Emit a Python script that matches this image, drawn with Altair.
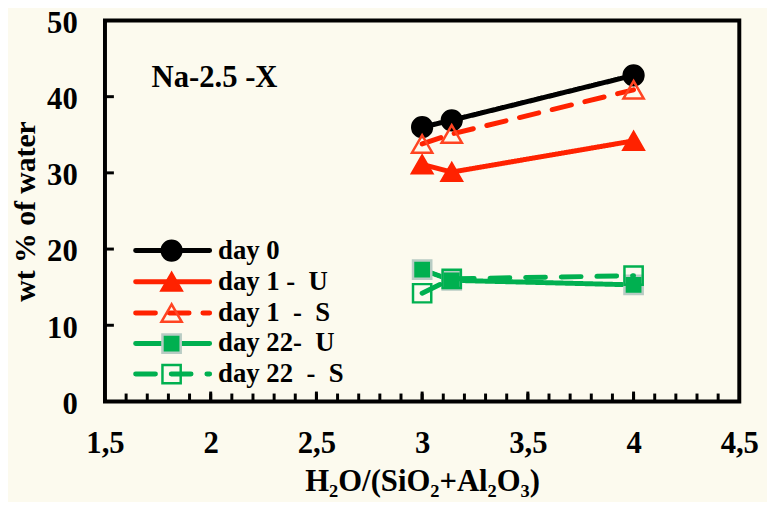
import altair as alt
import pandas as pd

# ---- data ----
x_vals = [3.0, 3.14, 4.0]
day0 = [36.0, 36.9, 42.8]
day1_U = [31.1, 30.1, 34.2]
day1_S = [33.8, 35.1, 40.9]
day22_U = [17.3, 15.9, 15.3]
day22_S = [14.2, 16.1, 16.5]

series_names = ["day 0", "day 1 -  U", "day 1  -  S", "day 22-  U", "day 22  -  S"]
series_values = [day0, day1_U, day1_S, day22_U, day22_S]

x_major = [1.5, 2.0, 2.5, 3.0, 3.5, 4.0, 4.5]
y_major = [0, 10, 20, 30, 40, 50]
x_minor = [round(1.5 + 0.1 * i, 1) for i in range(1, 30)]
y_inner_ticks = [10, 20, 30, 40]

annotation = "Na-2.5 -X"

# ---- styles ----
RED = "#FF2200"
GREEN = "#00B050"
BG = "#FCFAEE"
FONT = "Liberation Serif"

styles = [
    dict(color="black", dash=[1, 0], shape="circle", filled=True, fill="black", stroke="black", size=400),
    dict(color=RED, dash=[1, 0], shape="triangle-up", filled=True, fill=RED, stroke=RED, size=420),
    dict(color=RED, dash=[20, 14], shape="triangle-up", filled=False, fill=None, stroke="#FF4422", size=420),
    dict(color=GREEN, dash=[1, 0], shape="square", filled=True, fill=GREEN, stroke="#B8CCC4", size=340),
    dict(color=GREEN, dash=[20, 16], shape="square", filled=False, fill=None, stroke=GREEN, size=340),
]

# legend layout in data units
leg_rows = [19.8, 15.7, 11.6, 7.6, 3.6]
leg_x0, leg_xm, leg_x1, leg_xt = 1.645, 1.815, 1.995, 2.035

W, H = 641, 385
xscale = alt.Scale(domain=[1.5, 4.5], nice=False, zero=False)
yscale = alt.Scale(domain=[0, 50], nice=False)

layers = []
for name, vals, st, ly in zip(series_names, series_values, styles, leg_rows):
    df = pd.DataFrame({"x": x_vals, "y": vals, "series": name})
    line = alt.Chart(df).mark_line(
        color=st["color"], strokeWidth=5, strokeDash=st["dash"], strokeCap="round"
    ).encode(
        x=alt.X("x:Q", scale=xscale),
        y=alt.Y("y:Q", scale=yscale),
    )
    pkw = dict(shape=st["shape"], size=st["size"], opacity=1, strokeWidth=2.5, stroke=st["stroke"])
    if st["filled"]:
        pkw.update(filled=True, fill=st["fill"])
    else:
        pkw.update(filled=False, fill="transparent")
    pts = alt.Chart(df).mark_point(**pkw).encode(
        x=alt.X("x:Q", scale=xscale),
        y=alt.Y("y:Q", scale=yscale),
    )
    # legend entry
    ldf = pd.DataFrame({"x": [leg_x0, leg_x1], "y": [ly, ly]})
    lline = alt.Chart(ldf).mark_line(
        color=st["color"], strokeWidth=5, strokeDash=st["dash"], strokeCap="round"
    ).encode(x=alt.X("x:Q", scale=xscale), y=alt.Y("y:Q", scale=yscale))
    mdf = pd.DataFrame({"x": [leg_xm], "y": [ly]})
    lpt = alt.Chart(mdf).mark_point(**pkw).encode(
        x=alt.X("x:Q", scale=xscale), y=alt.Y("y:Q", scale=yscale)
    )
    tdf = pd.DataFrame({"x": [leg_xt], "y": [ly], "t": [name.replace("  ", "\u00a0 ")]})
    ltxt = alt.Chart(tdf).mark_text(
        align="left", baseline="middle", font=FONT, fontWeight="bold", fontSize=27, color="black"
    ).encode(x=alt.X("x:Q", scale=xscale), y=alt.Y("y:Q", scale=yscale), text="t:N")
    layers += [line, pts, lline, lpt, ltxt]

# inward ticks
minor_df = pd.DataFrame({"x": x_minor})
minor_ticks = alt.Chart(minor_df).mark_rule(color="black", strokeWidth=3).encode(
    x=alt.X("x:Q", scale=xscale), y=alt.value(H), y2=alt.value(H - 8)
)
major_df = pd.DataFrame({"x": x_major[1:-1]})
major_ticks = alt.Chart(major_df).mark_rule(color="black", strokeWidth=3).encode(
    x=alt.X("x:Q", scale=xscale), y=alt.value(H), y2=alt.value(H - 10)
)
ytick_df = pd.DataFrame({"y": y_inner_ticks})
y_ticks = alt.Chart(ytick_df).mark_rule(color="black", strokeWidth=3).encode(
    y=alt.Y("y:Q", scale=yscale), x=alt.value(0), x2=alt.value(9)
)

ann_df = pd.DataFrame({"x": [1.72], "y": [42.4], "t": [annotation]})
ann = alt.Chart(ann_df).mark_text(
    align="left", baseline="middle", font=FONT, fontWeight="bold", fontSize=31, color="black"
).encode(x=alt.X("x:Q", scale=xscale), y=alt.Y("y:Q", scale=yscale), text="t:N")

# axes carrier
axis_df = pd.DataFrame({"x": [1.5], "y": [0]})
axes = alt.Chart(axis_df).mark_point(opacity=0).encode(
    x=alt.X(
        "x:Q", scale=xscale,
        axis=alt.Axis(
            values=x_major, title="H₂O/(SiO₂+Al₂O₃)", domain=False, ticks=False, grid=False,
            labelExpr="replace(format(datum.value, '.1~f'), '.', ',')",
            labelFlush=False, labelOverlap=False, labelPadding=28, titlePadding=8,
            labelFont=FONT, labelFontSize=31, labelFontWeight="bold", labelColor="black",
            titleFont=FONT, titleFontSize=31, titleFontWeight="bold", titleColor="black",
        ),
    ),
    y=alt.Y(
        "y:Q", scale=yscale,
        axis=alt.Axis(
            values=y_major, title="wt % of water", domain=False, ticks=False, grid=False,
            labelFlush=False, labelOverlap=False, labelPadding=28, titlePadding=6, labelOffset=3,
            labelFont=FONT, labelFontSize=31, labelFontWeight="bold", labelColor="black",
            titleFont=FONT, titleFontSize=30, titleFontWeight="bold", titleColor="black",
        ),
    ),
)

chart = alt.layer(axes, minor_ticks, major_ticks, y_ticks, ann, *layers).properties(
    width=W, height=H, background=BG,
    padding={"left": 98, "top": 10, "right": 28, "bottom": 99},
    autosize=alt.AutoSizeParams(type="none"),
).configure_view(stroke="black", strokeWidth=4)

chart.save("out.html", embed_options={"renderer": "svg", "actions": False})
